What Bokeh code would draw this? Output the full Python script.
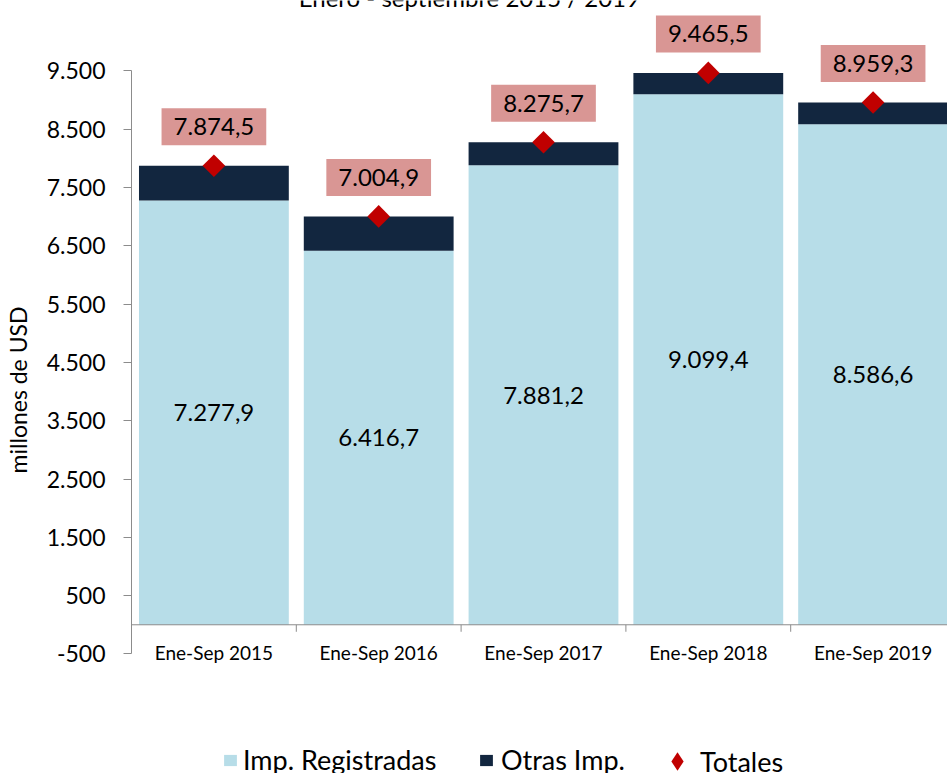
import math
from bokeh.plotting import figure
from bokeh.models import FixedTicker, Span, Legend, LegendItem, ColumnDataSource, Label
from bokeh.core.properties import value
from bokeh.embed import file_html
from bokeh.resources import INLINE

categories = ["Ene-Sep 2015", "Ene-Sep 2016", "Ene-Sep 2017", "Ene-Sep 2018", "Ene-Sep 2019"]
registradas = [7277.9, 6416.7, 7881.2, 9099.4, 8586.6]
totales = [7874.5, 7004.9, 8275.7, 9465.5, 8959.3]
y_ticks = [-500, 500, 1500, 2500, 3500, 4500, 5500, 6500, 7500, 8500, 9500]
y_tick_labels = ["-500", "500", "1.500", "2.500", "3.500", "4.500", "5.500",
                 "6.500", "7.500", "8.500", "9.500"]
legend_labels = ["Imp. Registradas", "Otras Imp.", "Totales"]
title_text = "Enero - septiembre 2015 / 2019"


def fmt(v):
    s = f"{v:,.1f}"
    return s.replace(",", "X").replace(".", ",").replace("X", ".")


FONT = "Lato"
C_REG = "#B7DDE8"
C_OTH = "#12263F"
C_TOT = "#C00000"
C_BOX = "#D99694"
C_AXIS = "#8C8C8C"

centers = [i + 0.5 for i in range(len(categories))]
boundaries = [i + 1 for i in range(len(categories))]

src = ColumnDataSource(dict(
    x=centers,
    cat=categories,
    reg=registradas,
    tot=totales,
    half=[r / 2 for r in registradas],
    reg_lbl=[fmt(r) for r in registradas],
    tot_lbl=[fmt(t) for t in totales],
))

p = figure(width=947, height=773, x_range=(0, 4.9515), y_range=(-2551, 10708),
           output_backend="svg", toolbar_location=None, x_axis_location=None,
           min_border_left=130, min_border_right=0, min_border_top=0,
           min_border_bottom=0)
p.outline_line_color = None
p.grid.visible = False
p.background_fill_color = "white"

ya = p.yaxis[0]
ya.ticker = FixedTicker(ticks=y_ticks)
ya.major_label_overrides = {t: l for t, l in zip(y_ticks, y_tick_labels)}
ya.bounds = (-500, 9500)
ya.minor_tick_line_color = None
ya.major_tick_in = 0
ya.major_tick_out = 8
ya.axis_line_color = C_AXIS
ya.major_tick_line_color = C_AXIS
ya.major_label_standoff = 18
ya.major_label_text_font = FONT
ya.major_label_text_font_size = "23px"
ya.major_label_text_color = "black"
ya.axis_label = "millones de  USD"
ya.axis_label_text_font = FONT
ya.axis_label_text_font_size = "23px"
ya.axis_label_text_font_style = "normal"
ya.axis_label_text_color = "black"
ya.axis_label_standoff = 12

bw = 150 / 165
r_reg = p.vbar(x="x", width=bw, bottom=0, top="reg", fill_color=C_REG,
               line_color=None, source=src)
r_oth = p.vbar(x="x", width=bw, bottom="reg", top="tot", fill_color=C_OTH,
               line_color=None, source=src)

p.add_layout(Span(location=0, dimension="width", line_color=C_AXIS, line_width=1))
p.ray(x=boundaries, y=[0] * len(boundaries), length=7, length_units="screen",
      angle=-math.pi / 2, line_color=C_AXIS, line_width=1)

p.text(x="x", y=0, text="cat", source=src, y_offset=28, text_align="center",
       text_baseline="middle", text_font=value(FONT), text_font_size="19px",
       text_color="black")

p.text(x="x", y="half", text="reg_lbl", source=src, text_align="center",
       text_baseline="middle", text_font=value(FONT), text_font_size="24px",
       text_color="black")

# diamond marker used for the legend entry (sits hidden inside the plotted diamonds)
r_tot_leg = p.scatter(x="x", y="tot", source=src, marker="diamond", size=14,
                      fill_color=C_TOT, line_color=None)
r_tot = p.scatter(x="x", y="tot", source=src, marker="square", angle=math.pi / 4,
                  size=16, fill_color=C_TOT, line_color=None)

p.text(x="x", y="tot", text="tot_lbl", source=src, y_offset=-39,
       text_align="center", text_baseline="middle", text_font=value(FONT),
       text_font_size="24px", text_color="black",
       background_fill_color=C_BOX,
       padding=dict(left=12, right=12, top=10, bottom=10))

p.add_layout(Label(x=2.05, y=10757, text=title_text, text_align="center",
                   text_baseline="alphabetic", text_font=FONT,
                   text_font_size="24px", text_color="black"))


def make_legend(label, renderer, loc, gw, gh, standoff):
    leg = Legend(items=[LegendItem(label=label, renderers=[renderer])],
                 location=loc, orientation="horizontal", glyph_width=gw,
                 glyph_height=gh, label_standoff=standoff, padding=0, margin=0,
                 spacing=0, border_line_color=None, background_fill_alpha=0,
                 label_text_font=FONT, label_text_font_size="27px",
                 label_text_color="black")
    p.add_layout(leg)


make_legend(legend_labels[0], r_reg, (91, -3), 16, 14, 5)
make_legend(legend_labels[1], r_oth, (347, -3), 16, 14, 7)
make_legend(legend_labels[2], r_tot_leg, (523, -11), 46, 46, 0)

open("out.html", "w").write(file_html(p, INLINE))
